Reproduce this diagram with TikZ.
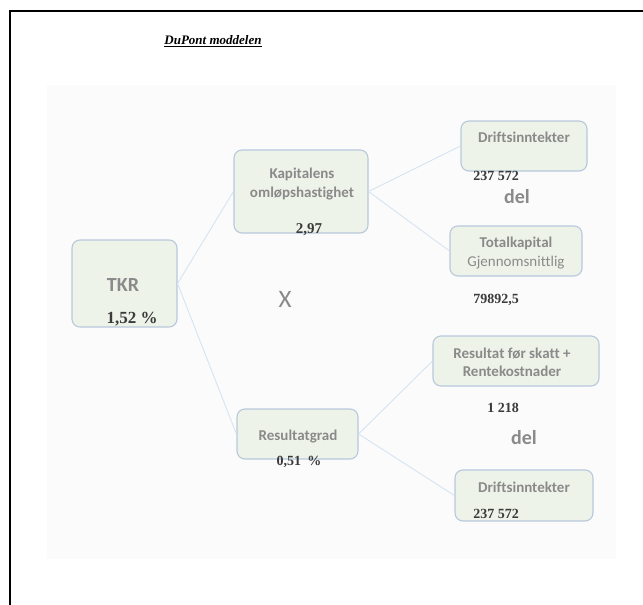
\documentclass[tikz,border=0pt]{standalone}
\usepackage{fontspec}
\newfontfamily\calfont[Ligatures=NoCommon]{Carlito}
\newfontfamily\tmsfont{Liberation Serif}
\definecolor{boxfill}{HTML}{EEF3E9}
\definecolor{boxline}{HTML}{B8C9DC}
\definecolor{conn}{HTML}{D6E4F2}
\definecolor{graytxt}{HTML}{8A8A8A}
\definecolor{numtxt}{HTML}{3A3A3A}
\definecolor{panel}{HTML}{FBFBFB}
\tikzset{
  box/.style={draw=boxline, fill=boxfill, line width=1.1pt, rounded corners=8pt, inner sep=0pt},
  conline/.style={draw=conn, line width=0.9pt},
  lbl/.style={anchor=base, inner sep=0pt, text=graytxt, font=\calfont\bfseries\fontsize{15}{19}\selectfont},
  num/.style={anchor=base, inner sep=0pt, text=numtxt, font=\tmsfont\bfseries\fontsize{14}{16}\selectfont},
  big/.style={anchor=base, inner sep=0pt, text=graytxt, font=\calfont\bfseries\fontsize{20}{24}\selectfont},
}
\begin{document}
\begin{tikzpicture}[x=1pt,y=-1pt]
\useasboundingbox (0,0) rectangle (643,605);
\fill[white] (0,0) rectangle (643,605);
% page frame
\draw[black, line width=2pt] (10,605) -- (10,11) -- (643,11);
% title
\node[anchor=base, inner sep=0pt, font=\tmsfont\bfseries\itshape\fontsize{13}{15}\selectfont] (title) at (213,45) {\underline{DuPont moddelen}};
% panel
\fill[panel] (47,85) rectangle (616,559);
% boxes
\node[box, minimum width=105pt, minimum height=87pt] (tkr) at (124.5,283.5) {};
\node[box, minimum width=134pt, minimum height=83pt] (kap) at (301,191.5) {};
\node[box, minimum width=126pt, minimum height=50pt] (dri1) at (524,146) {};
\node[box, minimum width=132pt, minimum height=50pt] (tot) at (516,251) {};
\node[box, minimum width=166pt, minimum height=50pt] (res) at (516,361) {};
\node[box, minimum width=121pt, minimum height=50pt] (rgrad) at (297.5,434) {};
\node[box, minimum width=138pt, minimum height=51pt] (dri2) at (524,495.5) {};
% connectors
\draw[conline] (tkr.east) -- (kap.west);
\draw[conline] (tkr.east) -- (rgrad.west);
\draw[conline] (kap.east) -- (dri1.west);
\draw[conline] (kap.east) -- (tot.west);
\draw[conline] (rgrad.east) -- (res.west);
\draw[conline] (rgrad.east) -- (dri2.west);
% texts
\node[big] (tkrt) at (123,291) {TKR};
\node[num, font=\tmsfont\bfseries\fontsize{17}{19}\selectfont] (tkrn) at (132,323) {1,52 \%};
\node[lbl] (kapt1) at (302,178) {Kapitalens};
\node[lbl] (kapt2) at (302,197) {omløpshastighet};
\node[num, font=\tmsfont\bfseries\fontsize{15}{17}\selectfont] (kapn) at (309,233) {2,97};
\node[anchor=base, inner sep=0pt, text=graytxt, font=\calfont\fontsize{25}{28}\selectfont] (xx) at (285,307) {X};
\node[lbl] (dri1t) at (524,142) {Driftsinntekter};
\node[num] (dri1n) at (496,180) {237 572};
\node[big] (del1) at (517,203) {del};
\node[lbl] (tott1) at (516,247) {Totalkapital};
\node[lbl, font=\calfont\fontsize{15}{19}\selectfont] (tott2) at (516,266) {Gjennomsnittlig};
\node[num] (totn) at (496,303) {79892,5};
\node[lbl] (rest1) at (512,358) {Resultat før skatt +};
\node[lbl] (rest2) at (512,376) {Rentekostnader};
\node[num] (resn) at (503,412) {1 218};
\node[big] (del2) at (524,444) {del};
\node[lbl] (rgradt) at (298,440) {Resultatgrad};
\node[num] (rgradn) at (299,465) {0,51\hspace{0.45em}\%};
\node[lbl] (dri2t) at (524,492) {Driftsinntekter};
\node[num] (dri2n) at (496,518) {237 572};
\end{tikzpicture}
\end{document}
